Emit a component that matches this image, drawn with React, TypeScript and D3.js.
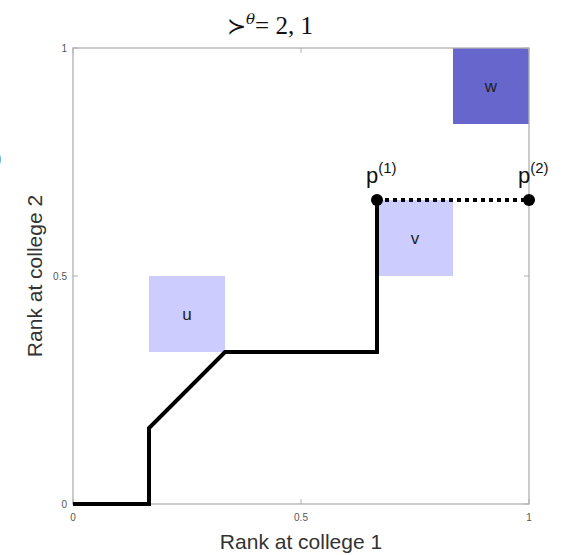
import * as d3 from "d3";

// path of the frontier in (rank at college 1, rank at college 2)
const pathX = [0, 1 / 6, 1 / 6, 1 / 3, 2 / 3, 2 / 3];
const pathY = [0, 0, 1 / 6, 1 / 3, 1 / 3, 2 / 3];

const dotX = [2 / 3, 1];
const dotY = [2 / 3, 2 / 3];
const dotNames = ["1", "2"];

const boxNames = ["u", "v", "w"];
const boxX0 = [1 / 6, 2 / 3, 5 / 6];
const boxY0 = [1 / 3, 1 / 2, 5 / 6];
const boxSize = [1 / 6, 1 / 6, 1 / 6];
const boxFill = ["#ccccff", "#ccccff", "#6666cc"];

const tickValues = [0, 0.5, 1];
const tickLabels = ["0", "0.5", "1"];

export default function App() {
  const W = 580;
  const H = 555;
  const x = d3.scaleLinear().domain([0, 1]).range([73, 529]);
  const y = d3.scaleLinear().domain([0, 1]).range([504, 48]);

  const line = d3
    .line<number>()
    .x((i) => x(pathX[i]))
    .y((i) => y(pathY[i]));
  const idx = pathX.map((_, i) => i);

  const font = "'Liberation Sans', Arial, sans-serif";

  return (
    <svg
      width={W}
      height={H}
      style={{ position: "absolute", left: 0, top: 0, background: "#fff" }}
    >
      {/* clipped leftover from neighbouring panel */}
      <text x={-5} y={165} fontFamily={font} fontSize={20} fill="#444">
        )
      </text>

      {/* boxes */}
      {boxNames.map((n, i) => (
        <g key={n}>
          <rect
            x={x(boxX0[i])}
            y={y(boxY0[i] + boxSize[i])}
            width={x(boxX0[i] + boxSize[i]) - x(boxX0[i])}
            height={y(boxY0[i]) - y(boxY0[i] + boxSize[i])}
            fill={boxFill[i]}
          />
          <text
            x={x(boxX0[i] + boxSize[i] / 2)}
            y={y(boxY0[i] + boxSize[i] / 2) + 6}
            textAnchor="middle"
            fontFamily={font}
            fontSize={17}
            fill="#222"
          >
            {n}
          </text>
        </g>
      ))}

      {/* axes box */}
      <rect
        x={x(0)}
        y={y(1)}
        width={x(1) - x(0)}
        height={y(0) - y(1)}
        fill="none"
        stroke="#b0b0b0"
        strokeWidth={1.3}
      />
      {tickValues.map((t, i) => (
        <g key={"t" + i}>
          <line x1={x(t)} x2={x(t)} y1={y(0)} y2={y(0) - 5} stroke="#b0b0b0" />
          <line x1={x(t)} x2={x(t)} y1={y(1)} y2={y(1) + 5} stroke="#b0b0b0" />
          <line x1={x(0)} x2={x(0) + 5} y1={y(t)} y2={y(t)} stroke="#b0b0b0" />
          <line x1={x(1)} x2={x(1) - 5} y1={y(t)} y2={y(t)} stroke="#b0b0b0" />
          <text
            x={x(t)}
            y={y(0) + 17}
            textAnchor="middle"
            fontFamily={font}
            fontSize={10}
            fill="#555"
          >
            {tickLabels[i]}
          </text>
          <text
            x={x(0) - 6}
            y={y(t) + 4}
            textAnchor="end"
            fontFamily={font}
            fontSize={10}
            fill="#555"
          >
            {tickLabels[i]}
          </text>
        </g>
      ))}

      {/* frontier */}
      <path
        d={line(idx) ?? ""}
        fill="none"
        stroke="#000"
        strokeWidth={4}
        strokeLinejoin="miter"
      />
      <line
        x1={x(dotX[0])}
        x2={x(dotX[1])}
        y1={y(dotY[0])}
        y2={y(dotY[1])}
        stroke="#000"
        strokeWidth={4}
        strokeDasharray="4 4"
      />
      {dotX.map((dx, i) => (
        <g key={"p" + i}>
          <circle cx={x(dx)} cy={y(dotY[i])} r={6} fill="#000" />
          <text
            x={x(dx) - 11}
            y={y(dotY[i]) - 17}
            fontFamily={font}
            fontSize={22}
            fill="#111"
          >
            p
            <tspan dy={-10} fontSize={15}>
              ({dotNames[i]})
            </tspan>
          </text>
        </g>
      ))}

      {/* title */}
      <text
        x={270}
        y={34}
        textAnchor="middle"
        fontFamily="'DejaVu Serif', 'Liberation Serif', serif"
        fontSize={23}
        fill="#111"
      >
        ≻
        <tspan dy={-10} fontSize={15} fontStyle="italic">
          θ
        </tspan>
        <tspan dy={10} fontFamily="'Liberation Serif', serif" fontSize={25}>
          = 2, 1
        </tspan>
      </text>

      {/* axis labels */}
      <text
        x={x(0.5)}
        y={549}
        textAnchor="middle"
        fontFamily={font}
        fontSize={21}
        fill="#333"
      >
        Rank at college 1
      </text>
      <text
        transform={`translate(42,${y(0.5)}) rotate(-90)`}
        textAnchor="middle"
        fontFamily={font}
        fontSize={21}
        fill="#333"
      >
        Rank at college 2
      </text>
    </svg>
  );
}
